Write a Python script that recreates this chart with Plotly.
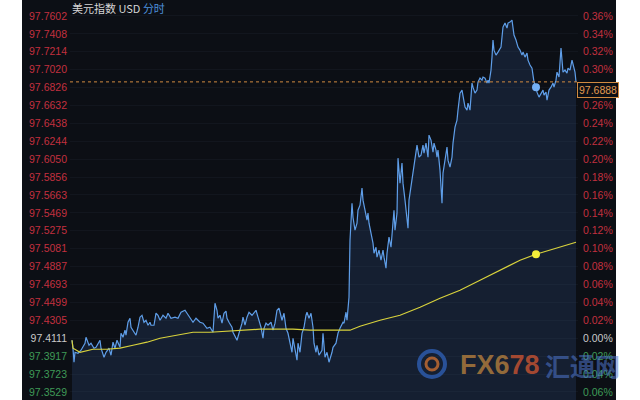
import plotly.graph_objects as go

# ---------------- data ----------------
prev_close = 97.4111
last_price = 97.6888
title_main = "美元指数 USD"
title_mode = "分时"

minute = [
    0, 1, 2, 3, 6, 9, 13, 14, 17, 19,
    22, 24, 28, 29, 32, 34, 37, 39, 41, 43,
    45, 48, 49, 51, 53, 54, 56, 58, 59, 61,
    64, 66, 68, 70, 72, 74, 76, 78, 79, 82,
    84, 86, 88, 91, 94, 96, 99, 103, 106, 109,
    113, 115, 118, 121, 124, 128, 131, 135, 138, 141,
    143, 145, 146, 148, 150, 152, 154, 155, 157, 160,
    161, 164, 165, 167, 170, 171, 173, 175, 177, 180,
    182, 184, 186, 189, 191, 192, 194, 196, 199, 201,
    203, 205, 207, 210, 212, 214, 216, 218, 220, 221,
    223, 225, 226, 228, 230, 232, 234, 235, 237, 239,
    241, 242, 244, 245, 247, 250, 251, 253, 255, 257,
    260, 261, 264, 266, 268, 271, 272, 274, 275, 277,
    278, 280, 281, 282, 283, 285, 286, 288, 290, 291,
    293, 295, 296, 297, 299, 301, 302, 304, 305, 307,
    309, 311, 312, 314, 315, 317, 319, 321, 322, 323,
    325, 326, 328, 330, 331, 333, 335, 336, 337, 339,
    341, 343, 345, 347, 349, 351, 352, 354, 356, 357,
    359, 361, 362, 364, 365, 366, 368, 370, 371, 373,
    375, 376, 378, 380, 381, 383, 385, 386, 388, 390,
    391, 393, 395, 396, 398, 400, 401, 403, 405, 406,
    408, 410, 411, 413, 415, 416, 417, 419, 420, 421,
    422, 424, 426, 429, 430, 431, 433, 435, 436, 438,
    440, 441, 442, 444, 446, 448, 450, 451, 453, 455,
    456, 458, 460, 461, 462, 464, 465, 467, 469, 471,
    472, 474, 475, 477, 479, 481, 482, 484, 485, 487,
    489, 490, 491, 493, 495, 496, 498, 500, 501, 503,
    504,
]

price = [
    97.4089, 97.4003, 97.3851, 97.3959, 97.3948, 97.3981, 97.4057, 97.4122, 97.4035, 97.4057,
    97.4003, 97.4013, 97.4089, 97.4003, 97.3905, 97.3959, 97.4003, 97.3927, 97.4068, 97.4003,
    97.4089, 97.4013, 97.4165, 97.4122, 97.4198, 97.4144, 97.4284, 97.4328, 97.4230, 97.4198,
    97.4144, 97.4230, 97.4339, 97.4360, 97.4284, 97.4306, 97.4252, 97.4284, 97.4252, 97.4252,
    97.4382, 97.4360, 97.4306, 97.4360, 97.4328, 97.4382, 97.4328, 97.4339, 97.4328, 97.4393,
    97.4414, 97.4382, 97.4339, 97.4284, 97.4328, 97.4284, 97.4274, 97.4219, 97.4230, 97.4176,
    97.4490, 97.4414, 97.4328, 97.4360, 97.4274, 97.4382, 97.4404, 97.4328, 97.4284, 97.4230,
    97.4176, 97.4122, 97.4089, 97.4165, 97.4274, 97.4339, 97.4252, 97.4339, 97.4393, 97.4360,
    97.4393, 97.4414, 97.4339, 97.4230, 97.4111, 97.4219, 97.4274, 97.4252, 97.4284, 97.4198,
    97.4274, 97.4414, 97.4436, 97.4306, 97.4382, 97.4219, 97.4165, 97.4068, 97.3959, 97.4111,
    97.4003, 97.3873, 97.4057, 97.3959, 97.4165, 97.4230, 97.4360, 97.4393, 97.4328, 97.4382,
    97.4230, 97.4057, 97.3959, 97.4035, 97.3927, 97.3981, 97.4165, 97.3905, 97.3959, 97.3851,
    97.3959, 97.4013, 97.4057, 97.4165, 97.4219, 97.4284, 97.4274, 97.4393, 97.4306, 97.4555,
    97.5173, 97.5574, 97.5422, 97.5357, 97.5282, 97.5357, 97.5498, 97.5552, 97.5737, 97.5607,
    97.5498, 97.5390, 97.5466, 97.5357, 97.5249, 97.5141, 97.5032, 97.5097, 97.4989, 97.5065,
    97.4956, 97.5065, 97.4989, 97.4870, 97.5032, 97.5206, 97.5097, 97.5314, 97.5498, 97.5282,
    97.5466, 97.6062, 97.5791, 97.6008, 97.5791, 97.5607, 97.5444, 97.5303, 97.5607, 97.5748,
    97.5899, 97.6040, 97.6203, 97.6073, 97.6094, 97.6203, 97.6116, 97.6224, 97.6073, 97.6311,
    97.6257, 97.6127, 97.6224, 97.6149, 97.6073, 97.6149, 97.5932, 97.5574, 97.5899, 97.6040,
    97.6181, 97.6040, 97.5964, 97.6073, 97.6224, 97.6398, 97.6474, 97.6582, 97.6766, 97.6799,
    97.6723, 97.6615, 97.6582, 97.6658, 97.6582, 97.6875, 97.6831, 97.6766, 97.6799, 97.6886,
    97.6929, 97.6907, 97.6940, 97.6929, 97.6875, 97.6907, 97.6875, 97.7016, 97.7156, 97.7341,
    97.7232, 97.7178, 97.7211, 97.7265, 97.7373, 97.7482, 97.7525, 97.7471, 97.7525, 97.7536,
    97.7557, 97.7482, 97.7395, 97.7341, 97.7265, 97.7232, 97.7178, 97.7211, 97.7156, 97.7200,
    97.7124, 97.7070, 97.7037, 97.6961, 97.6886, 97.6831, 97.6777, 97.6723, 97.6766, 97.6799,
    97.6745, 97.6777, 97.6690, 97.6799, 97.6831, 97.6875, 97.6831, 97.6907, 97.6994, 97.6940,
    97.7254, 97.7070, 97.6994, 97.7016, 97.6983, 97.7037, 97.7016, 97.7124, 97.7070, 97.6994,
    97.6888,
]

avg_minute = [0, 1, 8, 21, 35, 48, 61, 75, 88, 105, 121, 138, 155, 171, 188, 205, 221,
              238, 255, 271, 278, 288, 308, 328, 348, 368, 388, 408, 428, 448, 464, 485, 504]
avg_price = [97.4089, 97.4003, 97.3959, 97.3992, 97.3992, 97.4003, 97.4035, 97.4068, 97.4111,
             97.4144, 97.4176, 97.4176, 97.4187, 97.4198, 97.4209, 97.4209, 97.4209, 97.4198,
             97.4198, 97.4198, 97.4198, 97.4241, 97.4306, 97.4360, 97.4447, 97.4545, 97.4631,
             97.4740, 97.4848, 97.4956, 97.5021, 97.5086, 97.5151]

cursor_minute = 464

left_labels = ["97.7602", "97.7408", "97.7214", "97.7020", "97.6826", "97.6632", "97.6438",
               "97.6244", "97.6050", "97.5856", "97.5663", "97.5469", "97.5275", "97.5081",
               "97.4887", "97.4693", "97.4499", "97.4305", "97.4111", "97.3917", "97.3723",
               "97.3529"]
# the 0.28% label is hidden behind the last-price box in the reference
right_labels = ["0.36%", "0.34%", "0.32%", "0.30%", "", "0.26%", "0.24%", "0.22%",
                "0.20%", "0.18%", "0.16%", "0.14%", "0.12%", "0.10%", "0.08%", "0.06%",
                "0.04%", "0.02%", "0.00%", "0.02%", "0.04%", "0.06%"]

# ---------------- styling ----------------
BG = "#0c0f15"
RED = "#c3303f"
GREEN = "#3f9a57"
NEUTRAL = "#c9c9c9"
BLUE = "#5f9ee8"
YELLOW = "#d8d23c"
ORANGE = "#d08a40"
TICK_FONT = "Liberation Sans, Arial, sans-serif"

assert len(minute) == len(price)
assert len(avg_minute) == len(avg_price)

tick_vals = [float(v) for v in left_labels]


def colour_for(v):
    if abs(v - prev_close) < 1e-6:
        return NEUTRAL
    return RED if v > prev_close else GREEN


left_text = [f'<span style="color:{colour_for(v)}">{t}</span>' for v, t in zip(tick_vals, left_labels)]
right_text = [f'<span style="color:{colour_for(v)}">{t}</span>' if t else "" for v, t in zip(tick_vals, right_labels)]

y_lo, y_hi = 97.3442, 97.7775

fig = go.Figure()

fig.add_trace(go.Scatter(
    x=minute, y=price, mode="lines",
    line=dict(color=BLUE, width=1.2),
    fill="tozeroy", fillcolor="rgba(48,78,125,0.27)",
    hoverinfo="skip", showlegend=False,
))
fig.add_trace(go.Scatter(
    x=avg_minute, y=avg_price, mode="lines",
    line=dict(color=YELLOW, width=1.2),
    hoverinfo="skip", showlegend=False,
))

ci = minute.index(cursor_minute)
ai = avg_minute.index(cursor_minute)
fig.add_trace(go.Scatter(
    x=[minute[ci]], y=[price[ci]], mode="markers",
    marker=dict(color="#74b0f5", size=8), showlegend=False, hoverinfo="skip",
))
fig.add_trace(go.Scatter(
    x=[avg_minute[ai]], y=[avg_price[ai]], mode="markers",
    marker=dict(color="#f4ee3a", size=8), showlegend=False, hoverinfo="skip",
))
# invisible trace for the right (percent) axis
fig.add_trace(go.Scatter(
    x=[minute[0]], y=[price[0]], yaxis="y2", mode="markers",
    marker=dict(opacity=0), showlegend=False, hoverinfo="skip",
))

fig.update_layout(
    width=640, height=400,
    margin=dict(l=0, r=0, t=0, b=0),
    paper_bgcolor="white",
    plot_bgcolor="rgba(0,0,0,0)",
    xaxis=dict(domain=[70 / 640, 578 / 640], range=[-2, 506],
               showgrid=False, zeroline=False, showticklabels=False, showline=False),
    yaxis=dict(range=[y_lo, y_hi], tickvals=tick_vals, ticktext=left_text,
               showgrid=True, gridcolor="#12161e", gridwidth=1, zeroline=False,
               ticks="", ticklabelstandoff=2,
               tickfont=dict(family=TICK_FONT, size=10.5)),
    yaxis2=dict(range=[y_lo, y_hi], overlaying="y", side="right",
                tickvals=tick_vals, ticktext=right_text,
                showgrid=False, zeroline=False, ticks="", ticklabelstandoff=4,
                tickfont=dict(family=TICK_FONT, size=10.5)),
    shapes=[
        dict(type="rect", xref="paper", yref="paper", x0=22 / 640, x1=616 / 640,
             y0=0, y1=1, fillcolor=BG, line=dict(width=0), layer="below"),
        dict(type="line", xref="x domain", yref="y", x0=0, x1=1,
             y0=last_price, y1=last_price,
             line=dict(color=ORANGE, width=1, dash="3px,3px")),
        # watermark logo
        dict(type="circle", xref="paper", yref="paper",
             x0=419 / 640, x1=445 / 640, y0=1 - 377 / 400, y1=1 - 351 / 400,
             line=dict(color="rgba(45,90,170,0.85)", width=4)),
        dict(type="circle", xref="paper", yref="paper",
             x0=426 / 640, x1=438 / 640, y0=1 - 370 / 400, y1=1 - 358 / 400,
             line=dict(color="rgba(200,110,50,0.8)", width=3)),
    ],
    annotations=[
        dict(xref="paper", yref="paper", x=70 / 640, y=1 - 8 / 400, xanchor="left", yanchor="middle",
             text=f'<span style="color:#d6d6d6">{title_main}</span> <span style="color:#4d8fdc">{title_mode}</span>',
             showarrow=False, font=dict(family="Noto Sans CJK SC", size=11)),
        dict(xref="paper", yref="y", x=577 / 640, y=last_price, yshift=-8,
             xanchor="left", yanchor="middle", text=f"{last_price:.4f}",
             showarrow=False, font=dict(family=TICK_FONT, size=10.5, color="#e09a50"),
             bgcolor=BG, bordercolor=ORANGE, borderwidth=1, borderpad=1),
        dict(xref="paper", yref="paper", x=458 / 640, y=1 - 365 / 400, xanchor="left", yanchor="middle",
             text='<b><span style="color:rgba(170,120,60,0.85)">FX6</span><span style="color:rgba(190,80,50,0.85)">78</span></b>',
             showarrow=False, font=dict(family="Liberation Sans, Arial", size=27)),
        dict(xref="paper", yref="paper", x=543 / 640, y=1 - 365 / 400, xanchor="left", yanchor="middle",
             text="<b>汇通网</b>", showarrow=False,
             font=dict(family="Noto Sans CJK SC", size=25, color="rgba(80,120,210,0.55)")),
    ],
)

fig.write_html("out.html", config={"displayModeBar": False},
               post_script="document.body.style.margin='0';")
